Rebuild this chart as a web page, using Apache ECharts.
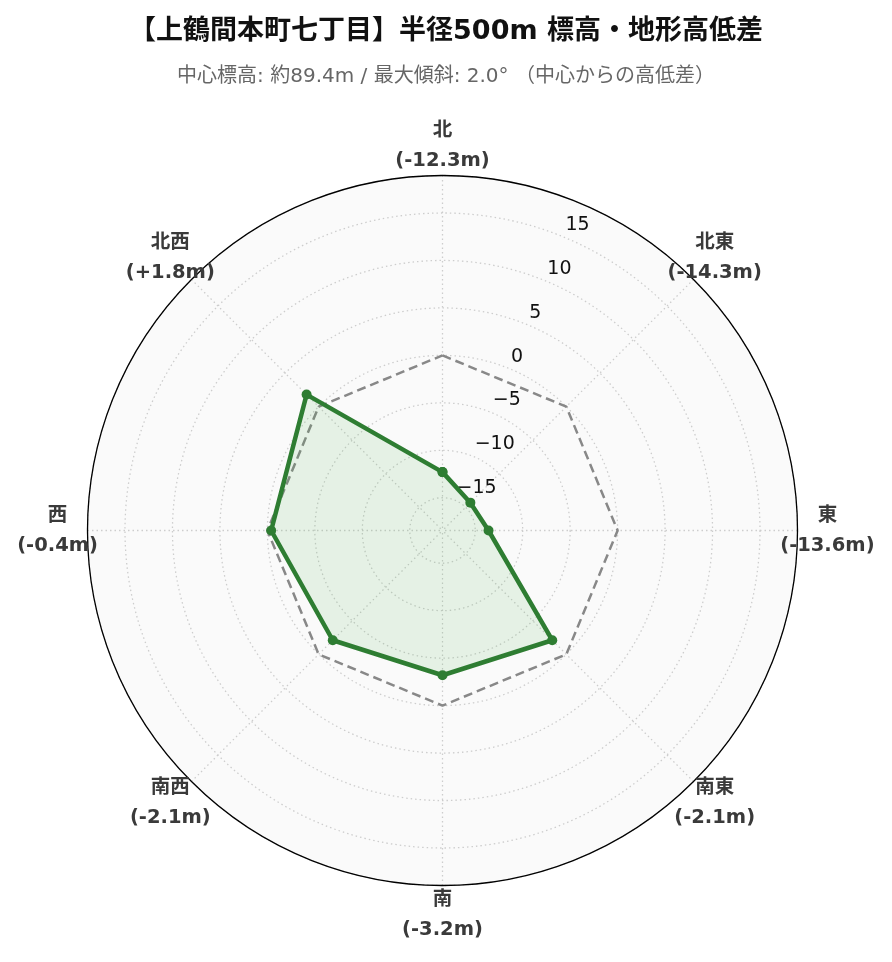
<!DOCTYPE html>
<html>
<head>
<meta charset="utf-8">
<title>上鶴間本町七丁目 標高・地形高低差</title>
<script src="https://cdn.jsdelivr.net/npm/echarts@6/dist/echarts.min.js"></script>
<style>
  html, body { margin: 0; padding: 0; background: #fff; }
  #main { width: 892px; height: 962px; }
</style>
</head>
<body>
<div id="main"></div>
<script>
// 方位と中心からの高低差 (m)
var directions = ['北', '北東', '東', '南東', '南', '南西', '西', '北西'];
var diffs = [-12.3, -14.3, -13.6, -2.1, -3.2, -2.1, -0.4, 1.8];
// 基準線 (中心標高 = 0m)
var baseLevel = [0, 0, 0, 0, 0, 0, 0, 0];
// 半径軸の目盛
var radialTicks = [-15, -10, -5, 0, 5, 10, 15];

var rMin = -18.45, rMax = 18.95;
var labelR = 22.1;     // 方位ラベルを置く半径 (軸の外側)
var tickAngle = 22.5;  // 目盛ラベルを並べる角度

var latin = "'DejaVu Sans', 'Noto Sans CJK JP', sans-serif";

// 各方位は 45° ずつ、最後に最初の点を繰り返して閉じる
function loop(values) {
  var pts = values.map(function (v, i) { return [v, i * 45]; });
  pts.push([values[0], 360]);
  return pts;
}

function diffText(v) {
  return '(' + (v > 0 ? '+' : '') + v.toFixed(1) + 'm)';
}

var myChart = echarts.init(document.getElementById('main'));

var option = {
  backgroundColor: '#fff',
  animation: false,
  title: {
    text: '【上鶴間本町七丁目】半径500m 標高・地形高低差',
    subtext: '中心標高: 約89.4m / 最大傾斜: 2.0° （中心からの高低差）',
    left: 'center',
    top: 13,
    itemGap: 22,
    textStyle: { fontSize: 27, fontWeight: 'bold', color: '#111', fontFamily: latin },
    subtextStyle: { fontSize: 20, color: '#666', fontFamily: latin }
  },
  polar: {
    center: [442.5, 530.5],
    radius: 355
  },
  angleAxis: {
    type: 'value',
    min: 0,
    max: 360,
    interval: 45,
    startAngle: 90,
    clockwise: true,
    axisLine: { lineStyle: { color: '#000', width: 1.3 } },
    axisTick: { show: false },
    axisLabel: { show: false },
    splitLine: { lineStyle: { color: '#d2d2d2', type: [1.5, 3], width: 1.3 } },
    // 薄い灰色の背景 (半透明にして格子線を隠さない)
    splitArea: { show: true, areaStyle: { color: ['rgba(0,0,0,0.02)'] } }
  },
  radiusAxis: {
    type: 'value',
    min: rMin,
    max: rMax,
    splitNumber: 7,
    axisLine: { show: false },
    axisTick: { show: false },
    axisLabel: { show: false },
    splitLine: { lineStyle: { color: '#d2d2d2', type: [1.5, 3], width: 1.3 } }
  },
  series: [
    {
      name: '基準 (0m)',
      type: 'line',
      coordinateSystem: 'polar',
      data: loop(baseLevel),
      symbol: 'none',
      lineStyle: { color: '#888', width: 2.5, type: [9, 5] },
      z: 2
    },
    {
      name: '目盛',
      type: 'scatter',
      coordinateSystem: 'polar',
      data: radialTicks.map(function (t) { return [t, tickAngle]; }),
      symbolSize: 1,
      itemStyle: { color: 'rgba(0,0,0,0)', opacity: 1 },
      silent: true,
      clip: false,
      label: {
        show: true,
        position: 'right',
        distance: 1,
        offset: [0, -12],
        formatter: function (p) { return String(p.value[0]).replace('-', '\u2212'); },
        fontSize: 19,
        color: '#111',
        fontFamily: latin
      },
      z: 3
    },
    {
      name: '高低差',
      type: 'line',
      coordinateSystem: 'polar',
      data: loop(diffs),
      symbol: 'circle',
      symbolSize: 10,
      itemStyle: { color: '#2e7d32' },
      lineStyle: { color: '#2e7d32', width: 4.5 },
      areaStyle: { origin: 'start', color: 'rgba(76,175,80,0.17)' },
      z: 4
    },
    {
      name: '方位',
      type: 'scatter',
      coordinateSystem: 'polar',
      data: directions.map(function (d, i) { return [labelR, i * 45]; }),
      symbolSize: 1,
      itemStyle: { color: 'rgba(0,0,0,0)', opacity: 1 },
      silent: true,
      clip: false,
      label: {
        show: true,
        position: 'inside',
        formatter: function (p) {
          return directions[p.dataIndex] + '\n' + diffText(diffs[p.dataIndex]);
        },
        fontSize: 19.5,
        fontWeight: 'bold',
        lineHeight: 30,
        color: '#3a3a3a',
        fontFamily: latin
      },
      z: 5
    }
  ]
};

myChart.setOption(option);
</script>
</body>
</html>
